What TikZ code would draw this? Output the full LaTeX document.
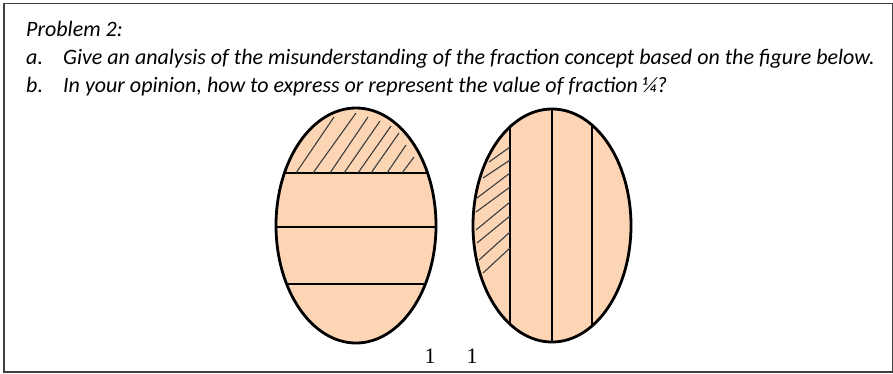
\documentclass[tikz,border=0pt]{standalone}
\usepackage{fontspec}
\setmainfont{Carlito}
\newfontfamily\numfont{Liberation Serif}
\usetikzlibrary{positioning}
\definecolor{peach}{HTML}{FCD5B5}
\definecolor{hatch}{HTML}{3C3C3C}
\definecolor{frame}{HTML}{404040}

\begin{document}
\begin{tikzpicture}[x=1pt,y=-1pt,
  task/.style={anchor=base west,inner sep=0pt,font=\fontsize{22}{26}\selectfont\itshape},
  part/.style={draw=black,line width=1.3pt},
  stroke/.style={draw=hatch,line width=1.1pt},
  rim/.style={draw=black,line width=2.8pt},
  unit/.style={anchor=base,inner sep=0pt,font=\numfont\fontsize{22}{26}\selectfont}]
\useasboundingbox (0,0) rectangle (893,373);
\draw[frame,line width=1.3pt] (4,3.5) rectangle (892.3,372);
% problem text
\node[task] (title) at (26,36) {Problem 2:};
\node[task] (labela) at (26,64.5) {a.};
\node[task] (itema) at (63,64.5) {Give an analysis of the misunderstanding of the fraction concept based on the figure below.};
\node[task] (labelb) at (26,92.5) {b.};
\node[task] (itemb) at (63,92.5) {In your opinion, how to express or represent the value of fraction ¼?};
% left oval: horizontal strips
\begin{scope}
  \clip (356,225.5) ellipse [x radius=80pt,y radius=117.5pt];
  \fill[peach] (356,225.5) ellipse [x radius=80pt,y radius=117.5pt];
  \foreach \y in {173,227,284}
    \draw[part] (270,\y) -- (440,\y);
\end{scope}
\foreach \a/\b/\c/\d in {296/173/334/117, 313/173/356/113, 330/173/368/117,
    344/173/380/121, 358/173/391/126, 371/173/399/133, 387/173/406/145, 402/173/414/157}
  \draw[stroke] (\a,\b) -- (\c,\d);
\draw[rim] (356,225.5) ellipse [x radius=80pt,y radius=117.5pt];
% right oval: vertical strips
\begin{scope}
  \clip (552,225.5) ellipse [x radius=79pt,y radius=116.5pt];
  \fill[peach] (552,225.5) ellipse [x radius=79pt,y radius=116.5pt];
  \foreach \x in {510,552,592}
    \draw[part] (\x,100) -- (\x,350);
\end{scope}
\foreach \a/\b/\c/\d in {489/162/510/147, 483/178/510/160, 477/198/510/173,
    476/212/510/187, 476/230/510/202, 477/243/510/216, 479/260/510/232, 483/273/510/248}
  \draw[stroke] (\a,\b) -- (\c,\d);
\draw[rim] (552,225.5) ellipse [x radius=79pt,y radius=116.5pt];
% numbers below
\node[unit] (onea) at (430,363) {1};
\node[unit] (oneb) at (472,363) {1};
\end{tikzpicture}
\end{document}
